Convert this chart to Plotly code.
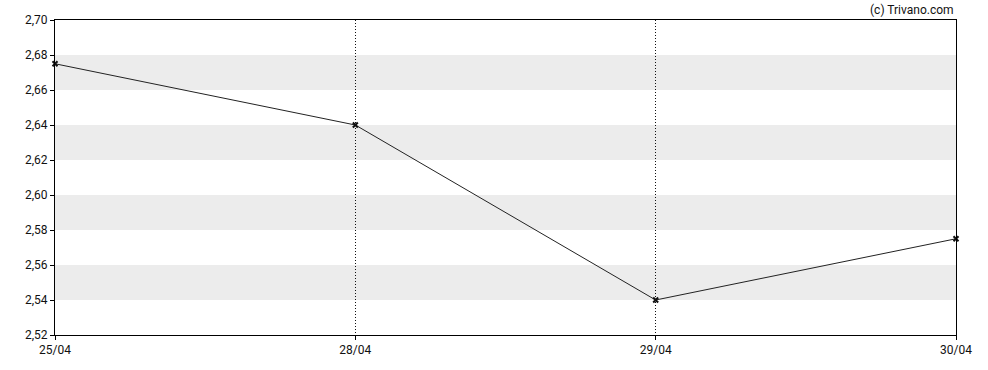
import plotly.graph_objects as go

dates = ["25/04", "28/04", "29/04", "30/04"]
prices = [2.675, 2.64, 2.54, 2.575]
y_ticks = [2.52, 2.54, 2.56, 2.58, 2.60, 2.62, 2.64, 2.66, 2.68, 2.70]
bands = [(2.54, 2.56), (2.58, 2.60), (2.62, 2.64), (2.66, 2.68)]

xs = list(range(len(dates)))

fig = go.Figure()
fig.add_trace(go.Scatter(
    x=xs, y=prices, mode="lines+markers", cliponaxis=False,
    line=dict(color="#222222", width=1),
    marker=dict(symbol="x-thin", size=5, color="#111111", line=dict(width=2, color="#111111")),
    hoverinfo="skip", showlegend=False,
))

shapes = []
for lo, hi in bands:
    shapes.append(dict(type="rect", xref="paper", yref="y", x0=0, x1=1, y0=lo, y1=hi,
                       fillcolor="#ececec", line=dict(width=0), layer="below"))

fig.update_layout(
    width=988, height=370,
    margin=dict(l=55, r=32, t=20, b=35),
    paper_bgcolor="white", plot_bgcolor="white",
    separators=", ",
    font=dict(family="Roboto", size=12, color="#111111"),
    shapes=shapes,
    xaxis=dict(
        range=[0, 3], tickvals=xs, ticktext=dates,
        showgrid=True, gridcolor="#111111", gridwidth=1, griddash="1px,2px",
        showline=True, linecolor="black", linewidth=1, mirror=True,
        ticks="outside", ticklen=4, tickcolor="black", zeroline=False,
        fixedrange=True,
    ),
    yaxis=dict(
        range=[2.52, 2.70], tickvals=y_ticks, tickformat=".2f",
        showgrid=False,
        showline=True, linecolor="black", linewidth=1, mirror=True,
        ticks="outside", ticklen=4, tickcolor="black", zeroline=False,
        fixedrange=True,
    ),
    annotations=[dict(text="(c) Trivano.com", xref="paper", yref="paper", x=1, y=1,
                      xanchor="right", yanchor="bottom", yshift=1, showarrow=False,
                      font=dict(family="Roboto", size=12, color="#111111"))],
)

fig.write_html("out.html", config={"displayModeBar": False},
               post_script="document.body.style.margin='0px';")
